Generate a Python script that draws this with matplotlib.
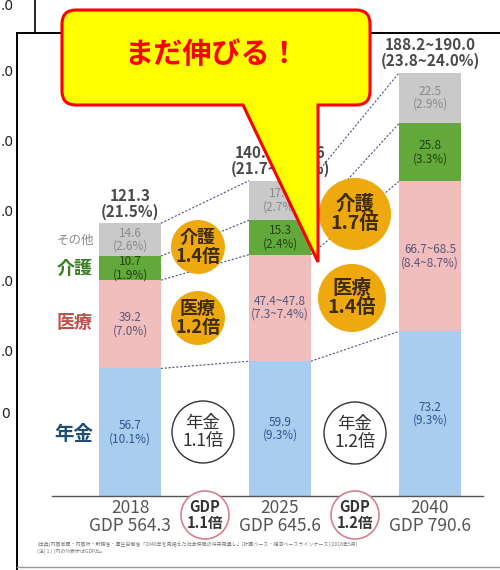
import matplotlib
matplotlib.use("Agg")
import matplotlib.pyplot as plt
from matplotlib.patches import Circle, PathPatch
from matplotlib.path import Path

plt.rcParams["font.family"] = ["Noto Sans CJK JP", "DejaVu Sans"]

# Data (兆円)
years = ["2018", "2025", "2040"]
gdp_labels = ["GDP 564.3", "GDP 645.6", "GDP 790.6"]
pension = [56.7, 59.9, 73.2]
medical = [39.2, 47.4, 66.7]
care = [10.7, 15.3, 25.8]
other = [14.6, 17.6, 22.5]

pension_txt = ["56.7\n(10.1%)", "59.9\n(9.3%)", "73.2\n(9.3%)"]
medical_txt = ["39.2\n(7.0%)", "47.4~47.8\n(7.3~7.4%)", "66.7~68.5\n(8.4~8.7%)"]
care_txt = ["10.7\n(1.9%)", "15.3\n(2.4%)", "25.8\n(3.3%)"]
other_txt = ["14.6\n(2.6%)", "17.6\n(2.7%)", "22.5\n(2.9%)"]
total_txt = ["121.3\n(21.5%)", "140.2~140.6\n(21.7~21.8%)", "188.2~190.0\n(23.8~24.0%)"]

care_ratio = ["介護\n1.4倍", "介護\n1.7倍"]
medical_ratio = ["医療\n1.2倍", "医療\n1.4倍"]
pension_ratio = ["年金\n1.1倍", "年金\n1.2倍"]
gdp_ratio = ["GDP\n1.1倍", "GDP\n1.2倍"]

series_names = ["年金", "医療", "介護", "その他"]
# what is left visible of the tick labels behind the picture
bg_ticks = [".0", ".0", ".0", ".0", ".0", ".0", "0"]

footnote = ("(出典)内閣官房・内閣府・財務省・厚生労働省「2040年を見据えた社会保障の将来見通し」"
            "(計画ベース・経済ベースラインケース)(2018年5月)\n(注) 1.( )内の%表示はGDP比。")

# colours
c_pension, c_medical, c_care, c_other = "#a9cdef", "#f2bdbd", "#63a83a", "#c9c9c9"
orange = "#eea90f"

fig = plt.figure(figsize=(5, 5.7), dpi=100)
fig.patch.set_facecolor("white")

# bar axes: 150 px per bar step, 2.25 px per unit, baseline at pixel row 496
ax = fig.add_axes([0, 0, 1, 1])
ax.set_xlim(-130 / 150, 370 / 150)
ax.set_ylim(-74 / 2.25, 496 / 2.25)
ax.axis("off")

# overlay axes in pixel coordinates
ov = fig.add_axes([0, 0, 1, 1])
ov.set_xlim(0, 500)
ov.set_ylim(570, 0)
ov.axis("off")

x = list(range(len(years)))
w = 0.41
segments = [(pension, c_pension, pension_txt, "#2d5590"),
            (medical, c_medical, medical_txt, "#55587a"),
            (care, c_care, care_txt, "#23420f"),
            (other, c_other, other_txt, "#8a8a8a")]

bottoms = [0.0] * len(years)
levels = []
for vals, col, txts, tcol in segments:
    ax.bar(x, vals, w, bottom=bottoms, color=col, zorder=2)
    for i in x:
        ax.text(i, bottoms[i] + vals[i] / 2, txts[i], ha="center", va="center",
                fontsize=8.5, color=tcol, linespacing=1.0, zorder=3)
    bottoms = [b + v for b, v in zip(bottoms, vals)]
    levels.append(list(bottoms))

# dashed connectors between bars
for lev in levels:
    for i in range(len(years) - 1):
        ax.plot([i + w / 2, i + 1 - w / 2], [lev[i], lev[i + 1]], color="#4d5680",
                lw=0.8, ls=(0, (2, 1.5)), zorder=1)

for i in x:
    ax.text(i, bottoms[i] + 1.5, total_txt[i], ha="center", va="bottom", fontsize=11,
            fontweight="bold", color="#4a4a4a", linespacing=1.0)
    ax.text(i, -9.5, years[i] + "\n" + gdp_labels[i], ha="center", va="center",
            fontsize=12.5, color="#555555", linespacing=1.0)

ax.plot([-0.52, 2.353], [0, 0], color="#555555", lw=1.0, zorder=4)

# background frame and cut-off tick labels
ov.plot([17, 17], [33, 570], color="black", lw=1.4)
ov.plot([17, 500], [33, 33], color="black", lw=1.4)
ov.plot([35, 35], [0, 33], color="black", lw=1.2)
ov.plot([17, 500], [567, 567], color="#999999", lw=1.0)
for lbl, yy in zip(bg_ticks, [6, 72, 142, 212, 282, 352, 414]):
    ov.text(1, yy, lbl, ha="left", va="center", fontsize=10,
            color="#222222", family="DejaVu Sans")

# series names on the left
ov.text(75, 240, series_names[3], ha="center", va="center", fontsize=9, color="#8a8a8a")
ov.text(75, 268, series_names[2], ha="center", va="center", fontsize=13,
        fontweight="bold", color="#3a7d22")
ov.text(75, 322, series_names[1], ha="center", va="center", fontsize=13,
        fontweight="bold", color="#c0504d")
ov.text(74, 434, series_names[0], ha="center", va="center", fontsize=14,
        fontweight="bold", color="#1f4e79")

# growth circles
orange_circles = [((198, 247), 27, care_ratio[0], 13),
                  ((198, 318), 27, medical_ratio[0], 13),
                  ((355, 214), 36, care_ratio[1], 14),
                  ((352, 298), 34, medical_ratio[1], 14)]
for (cx, cy), r, txt, fs in orange_circles:
    ov.add_patch(Circle((cx, cy), r, facecolor=orange, edgecolor="none", zorder=5))
    ov.text(cx, cy, txt, ha="center", va="center", fontsize=fs, fontweight="bold",
            color="#3d2b0a", linespacing=1.0, zorder=6)

for (cx, cy), txt in zip([(203, 432), (355, 433)], pension_ratio):
    ov.add_patch(Circle((cx, cy), 31, facecolor="white", edgecolor="#333333", lw=1.0, zorder=5))
    ov.text(cx, cy, txt, ha="center", va="center", fontsize=12.5, color="#333333",
            linespacing=1.0, zorder=6)

for (cx, cy), txt in zip([(205, 515), (355, 515)], gdp_ratio):
    ov.add_patch(Circle((cx, cy), 24, facecolor="white", edgecolor="#d9808f", lw=1.2, zorder=5))
    ov.text(cx, cy, txt, ha="center", va="center", fontsize=10.5, fontweight="bold",
            color="#333333", linespacing=0.95, zorder=6)

ov.text(37, 548, footnote, ha="left", va="center", fontsize=3.6, color="#777777",
        linespacing=1.4)

# speech bubble
L, R, T, B, r = 62, 370, 10, 105, 14
xa, xb, tip = 243, 318, (318, 262)
verts = [(L + r, T), (R - r, T), (R, T), (R, T + r), (R, B - r), (R, B), (R - r, B),
         (xb, B), tip, (xa, B), (L + r, B), (L, B), (L, B - r), (L, T + r), (L, T),
         (L + r, T), (L + r, T)]
codes = [Path.MOVETO, Path.LINETO, Path.CURVE3, Path.CURVE3, Path.LINETO, Path.CURVE3,
         Path.CURVE3, Path.LINETO, Path.LINETO, Path.LINETO, Path.LINETO, Path.CURVE3,
         Path.CURVE3, Path.LINETO, Path.CURVE3, Path.CURVE3, Path.CLOSEPOLY]
ov.add_patch(PathPatch(Path(verts, codes), facecolor="#ffff00", edgecolor="#ff0000",
                       lw=2.2, zorder=10))
ov.text(212, 54, "まだ伸びる！", ha="center", va="center", fontsize=21,
        fontweight="bold", color="#ff0000", zorder=11)

fig.savefig("out.png", dpi=100)
